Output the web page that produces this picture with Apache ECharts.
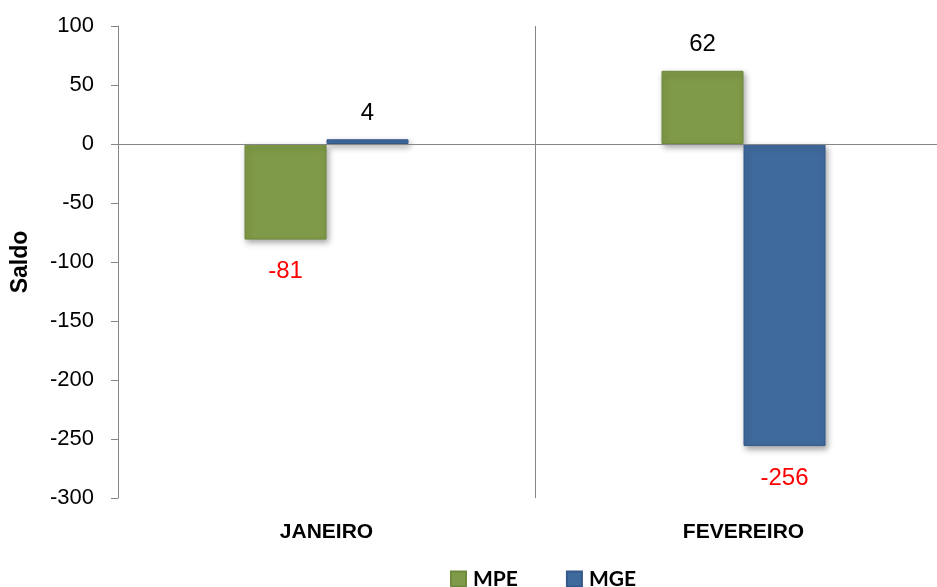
<!DOCTYPE html>
<html>
<head>
<meta charset="utf-8">
<script src="https://cdn.jsdelivr.net/npm/echarts@6/dist/echarts.min.js"></script>
<style>html,body{margin:0;padding:0;background:#fff;overflow:hidden;}#c{width:960px;height:587px;}</style>
</head>
<body>
<div id="c"></div>
<script>
var categories = ['JANEIRO', 'FEVEREIRO'];
var mpeValues = [-81, 62];
var mgeValues = [4, -256];
var yTicks = { min: -300, max: 100, interval: 50 };

function mkData(vals) {
  return vals.map(function (v) {
    return {
      value: v,
      label: v < 0
        ? { position: 'bottom', distance: 20, color: '#FF0000' }
        : { position: 'top', distance: 14, color: '#000000' }
    };
  });
}

var chart = echarts.init(document.getElementById('c'));
chart.setOption({
  animation: false,
  backgroundColor: '#ffffff',
  grid: { left: 118, top: 26, width: 834, bottom: 89 },
  legend: {
    data: [
      { name: 'MPE', icon: 'rect' },
      { name: 'MGE', icon: 'rect' }
    ],
    left: 450, top: 568, padding: 0,
    itemWidth: 15, itemHeight: 15, itemGap: 48,
    textStyle: { fontFamily: 'Lato', fontWeight: 'bold', fontSize: 21, lineHeight: 22, color: '#000', padding: [0, 0, 0, 2] }
  },
  xAxis: {
    type: 'category',
    data: categories,
    position: 'bottom',
    axisLine: { show: false, onZero: false },
    axisTick: { show: false },
    splitLine: { show: true, lineStyle: { color: '#868686', width: 1 } },
    axisLabel: { margin: 24, fontFamily: 'Liberation Sans', fontWeight: 'bold', fontSize: 21, color: '#000' }
  },
  yAxis: {
    type: 'value',
    min: yTicks.min, max: yTicks.max, interval: yTicks.interval,
    name: 'Saldo', nameLocation: 'middle', nameGap: 86,
    nameTextStyle: { fontFamily: 'Liberation Sans', fontWeight: 'bold', fontSize: 23, color: '#000' },
    axisLine: { show: true, lineStyle: { color: '#868686' } },
    axisTick: { show: true, length: 7, lineStyle: { color: '#868686' } },
    splitLine: { show: false },
    axisLabel: { margin: 24, fontFamily: 'Liberation Sans', fontSize: 22, color: '#000' }
  },
  series: [
    {
      name: 'MPE', type: 'bar', data: mkData(mpeValues),
      barWidth: 82, barGap: '0%',
      itemStyle: {
        color: '#7F9A48', borderColor: '#6E8A3B', borderWidth: 1,
        shadowColor: 'rgba(0,0,0,0.35)', shadowBlur: 6, shadowOffsetX: 2, shadowOffsetY: 3
      },
      label: { show: true, fontFamily: 'Liberation Sans', fontSize: 24 },
      markLine: {
        silent: true, symbol: 'none', label: { show: false },
        lineStyle: { color: '#868686', type: 'solid', width: 1 },
        data: [{ yAxis: 0 }]
      },
      z: 3
    },
    {
      name: 'MGE', type: 'bar', data: mkData(mgeValues),
      barWidth: 82, barGap: '0%',
      itemStyle: {
        color: '#3F6A9C', borderColor: '#35598A', borderWidth: 1,
        shadowColor: 'rgba(0,0,0,0.35)', shadowBlur: 6, shadowOffsetX: 2, shadowOffsetY: 3
      },
      label: { show: true, fontFamily: 'Liberation Sans', fontSize: 24 },
      z: 3
    }
  ]
});
</script>
</body>
</html>
